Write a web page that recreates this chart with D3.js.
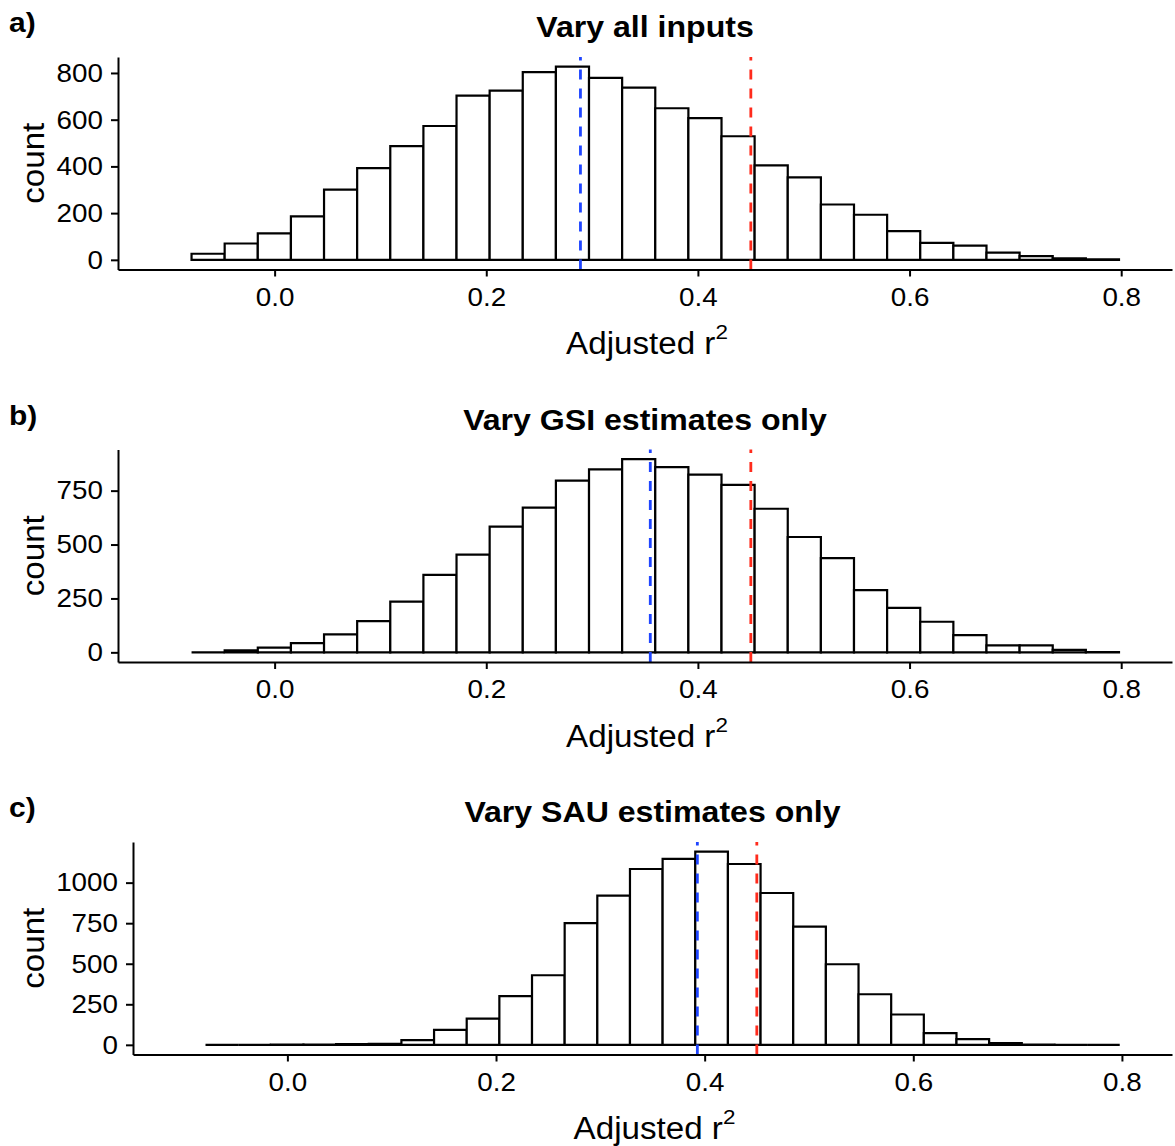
<!DOCTYPE html>
<html>
<head>
<meta charset="utf-8">
<script src="https://cdn.jsdelivr.net/npm/d3@7"></script>
<style>
  body { margin: 0; background: #fff; }
  text { font-family: "Liberation Sans", Arial, Helvetica, sans-serif; fill: #000; }
</style>
</head>
<body>
<svg id="chart" width="1175" height="1146"></svg>
<script>
// histogram bins (shared by all three panels)
var binStart = -0.0785;
var binWidth = 0.0313;

// counts per bin
var countsAll = [26, 70, 113, 186, 301, 393, 487, 573, 703, 724, 804, 827, 779, 737,
                 649, 607, 529, 404, 353, 237, 193, 123, 73, 61, 31, 16, 6, 2];
var countsGSI = [0, 9, 22, 43, 83, 145, 235, 359, 453, 583, 671, 796, 849, 896,
                 859, 824, 777, 666, 535, 437, 289, 206, 142, 80, 32, 32, 11, 1];
var countsSAU = [0, 0, 1, 2, 4, 6, 29, 92, 162, 300, 429, 750, 920, 1084,
                 1146, 1191, 1115, 936, 729, 497, 312, 187, 72, 35, 10, 1, 0, 0];

var titles = ["Vary all inputs", "Vary GSI estimates only", "Vary SAU estimates only"];
var tags = ["a)", "b)", "c)"];
var blueLines = [0.289, 0.355, 0.393];
var redLine = 0.450;
var yTickValues = [[0, 200, 400, 600, 800], [0, 250, 500, 750], [0, 250, 500, 750, 1000]];
var xTickValues = [0.0, 0.2, 0.4, 0.6, 0.8];
var xDomain = [-0.148, 0.848];

var series = [countsAll, countsGSI, countsSAU];
var svg = d3.select("#chart");
var sx = 1.07; // text looks a bit wide in the original

series.forEach(function (counts, i) {
    var off = i * 392.5;
    var left = i == 2 ? 133 : 118;
    var right = 1172;
    var top = 57 + off;
    var bottom = 269.5 + off;
    var cx = (left + right) / 2;

    var maxC = d3.max(counts);
    var x = d3.scaleLinear().domain(xDomain).range([left, right]);
    var y = d3.scaleLinear().domain([-0.05 * maxC, 1.05 * maxC]).range([bottom, top]);

    var bins = counts.map(function (c, k) {
        return { x0: binStart + k * binWidth, x1: binStart + (k + 1) * binWidth, n: c };
    });

    var g = svg.append("g");

    // bars as paths so that empty bins still show a flat line
    g.selectAll("path.bar")
        .data(bins)
        .enter().append("path")
        .attr("class", "bar")
        .attr("d", function (b) {
            return "M" + x(b.x0) + "," + y(0) + "V" + y(b.n) + "H" + x(b.x1) + "V" + y(0) + "Z";
        })
        .attr("fill", "#fff")
        .attr("stroke", "#000")
        .attr("stroke-width", 2.2)
        .attr("stroke-linejoin", "miter");

    // dashed reference lines, drawn bottom to top like ggplot
    [[blueLines[i], "#1f45ff"], [redLine, "#ff2b1c"]].forEach(function (v) {
        g.append("path")
            .attr("d", "M" + x(v[0]) + "," + bottom + "V" + top)
            .attr("stroke", v[1])
            .attr("stroke-width", 2.8)
            .attr("stroke-dasharray", "10,9")
            .attr("fill", "none");
    });

    // axes
    var ax = g.append("g")
        .attr("transform", "translate(0," + bottom + ")")
        .call(d3.axisBottom(x).tickValues(xTickValues).tickFormat(d3.format(".1f"))
            .tickSize(7).tickSizeOuter(0).tickPadding(11));
    var ay = g.append("g")
        .attr("transform", "translate(" + left + ",0)")
        .call(d3.axisLeft(y).tickValues(yTickValues[i]).tickFormat(d3.format("d"))
            .tickSize(7).tickSizeOuter(0).tickPadding(8));

    [ax, ay].forEach(function (a) {
        a.attr("font-size", 26).attr("font-family", null);
        a.select(".domain").attr("stroke", "#000").attr("stroke-width", 2);
        a.selectAll(".tick line").attr("stroke", "#000").attr("stroke-width", 2);
        a.selectAll(".tick text").attr("fill", "#000").attr("transform", "scale(" + sx + ",1)");
    });
    ay.selectAll(".tick text").attr("x", -15 / sx);

    // title and panel tag
    g.append("text")
        .attr("transform", "translate(" + cx + "," + (37 + off) + ") scale(" + sx + ",1)")
        .attr("text-anchor", "middle")
        .attr("font-size", 30)
        .attr("font-weight", "bold")
        .text(titles[i]);
    g.append("text")
        .attr("transform", "translate(9," + (32 + off) + ") scale(" + sx + ",1)")
        .attr("font-size", 28)
        .attr("font-weight", "bold")
        .text(tags[i]);

    // axis titles
    var xt = g.append("text")
        .attr("transform", "translate(" + (cx + 2) + "," + (354 + off) + ") scale(" + sx + ",1)")
        .attr("text-anchor", "middle")
        .attr("font-size", 31);
    xt.append("tspan").text("Adjusted r");
    xt.append("tspan").attr("dy", -15).attr("font-size", 21).text("2");

    g.append("text")
        .attr("transform", "translate(44," + ((top + bottom) / 2) + ") rotate(-90) scale(" + sx + ",1)")
        .attr("text-anchor", "middle")
        .attr("font-size", 31)
        .text("count");
});
</script>
</body>
</html>
